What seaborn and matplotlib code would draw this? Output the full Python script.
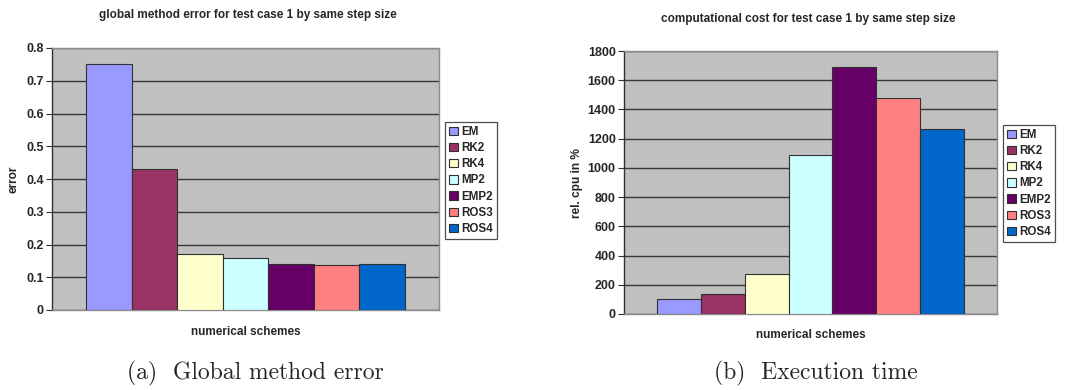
import matplotlib
matplotlib.use("Agg")
import matplotlib.pyplot as plt
import seaborn as sns
import pandas as pd

# Schemes compared and their bar colours
schemes = ["EM", "RK2", "RK4", "MP2", "EMP2", "ROS3", "ROS4"]
colors = ["#9999FF", "#993366", "#FFFFCC", "#CCFFFF", "#660066", "#FF8080", "#0066CC"]

# Global method error per scheme
error_values = [0.75, 0.43, 0.17, 0.16, 0.14, 0.138, 0.14]
error_ticks = [0, 0.1, 0.2, 0.3, 0.4, 0.5, 0.6, 0.7, 0.8]
error_ticklabels = ["0", "0.1", "0.2", "0.3", "0.4", "0.5", "0.6", "0.7", "0.8"]

# Relative CPU time per scheme (%)
cpu_values = [100, 135, 275, 1085, 1690, 1475, 1265]
cpu_ticks = [0, 200, 400, 600, 800, 1000, 1200, 1400, 1600, 1800]

sns.set_theme(style="white")
plt.rcParams["font.family"] = ["Liberation Sans", "DejaVu Sans"]

fig = plt.figure(figsize=(10.67, 3.9), dpi=100)

def draw_panel(rect, values, ticks, ticklabels, ylabel, title, title_xy,
               ylabel_x, xlabel_y, legend_xy):
    ax = fig.add_axes(rect)
    df = pd.DataFrame({"group": ["g"] * len(schemes), "scheme": schemes,
                       "value": values})
    sns.barplot(data=df, x="group", y="value", hue="scheme", hue_order=schemes,
                palette=colors, width=0.824, dodge=True, ax=ax,
                edgecolor="#303030", linewidth=0.8, saturation=1, legend=True,
                zorder=3)
    ax.set_facecolor("#C0C0C0")
    ax.set_xlim(-0.5, 0.5)
    ax.set_ylim(ticks[0], ticks[-1])
    ax.set_yticks(ticks)
    ax.set_yticklabels(ticklabels, fontsize=9, fontweight="bold")
    ax.set_xticks([])
    ax.grid(axis="y", color="#383838", linewidth=1.0, zorder=1)
    ax.set_axisbelow(True)
    for side in ("top", "right", "bottom"):
        ax.spines[side].set_color("#8C8C8C")
        ax.spines[side].set_linewidth(1.0)
    ax.spines["left"].set_color("#303030")
    ax.spines["left"].set_linewidth(1.0)
    ax.tick_params(axis="y", which="major", left=True, direction="out",
                   length=4, width=0.8, color="#303030", pad=2)
    ax.set_ylabel(ylabel, fontsize=8.6, fontweight="bold")
    ax.yaxis.set_label_coords(ylabel_x, 0.5)
    ax.set_xlabel("numerical schemes", fontsize=8.5, fontweight="bold")
    ax.xaxis.set_label_coords(0.5, xlabel_y)
    fig.text(title_xy[0], title_xy[1], title, ha="center", va="center",
             fontsize=8.5, fontweight="bold")
    handles, labels = ax.get_legend_handles_labels()
    ax.legend(handles, labels, loc="upper left", bbox_to_anchor=legend_xy,
              bbox_transform=fig.transFigure, frameon=True, fancybox=False,
              edgecolor="#202020", prop={"weight": "bold", "size": 8.4},
              handlelength=0.75, handleheight=0.75, handletextpad=0.3,
              labelspacing=0.36, borderpad=0.33, borderaxespad=0)
    leg = ax.get_legend()
    leg.get_frame().set_linewidth(0.9)
    return ax

draw_panel([52 / 1067, 1 - 310 / 390, 387 / 1067, 262 / 390],
           error_values, error_ticks, error_ticklabels, "error",
           "global method error for test case 1 by same step size",
           (248 / 1067, 1 - 15 / 390), -0.083, -0.061,
           (445 / 1067, 1 - 122 / 390))

draw_panel([624 / 1067, 1 - 314 / 390, 373 / 1067, 263 / 390],
           cpu_values, cpu_ticks, [str(t) for t in cpu_ticks], "rel. cpu in %",
           "computational cost for test case 1 by same step size",
           (808 / 1067, 1 - 19 / 390), -0.11, -0.057,
           (1003 / 1067, 1 - 125 / 390))

# Sub-figure captions
cap_font = {"family": ["cmr10", "DejaVu Serif"], "size": 17}
fig.text(255 / 1067, 1 - 373 / 390, "(a)  Global method error", ha="center",
         va="center", fontdict=cap_font)
fig.text(816 / 1067, 1 - 373 / 390, "(b)  Execution time", ha="center",
         va="center", fontdict=cap_font)

fig.savefig("out.png", dpi=100, facecolor="white")
